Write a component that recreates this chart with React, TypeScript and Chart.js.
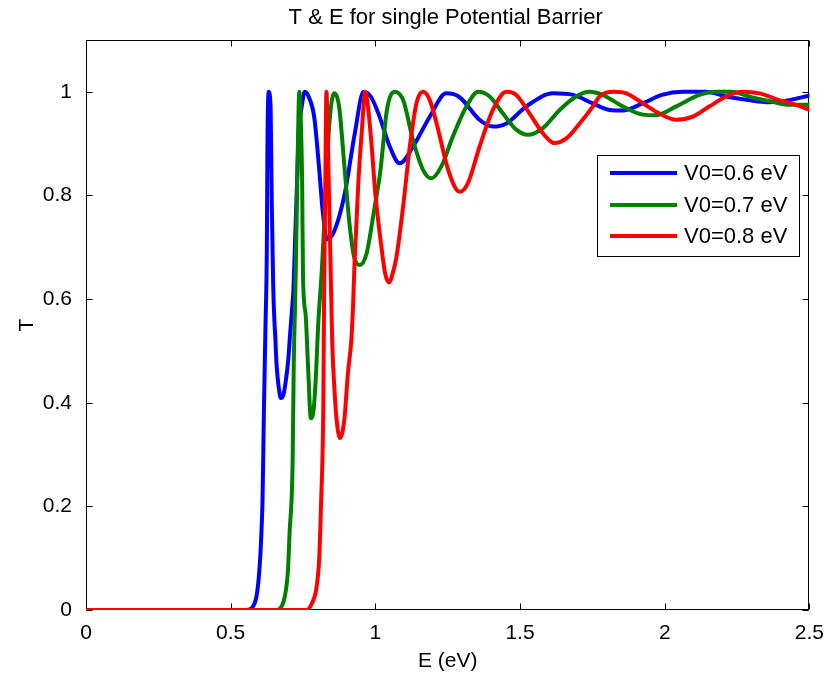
import React, { useEffect, useRef } from "react";
import { Chart, registerables } from "chart.js";
Chart.register(...registerables);

const TITLE = "T & E for single Potential Barrier";
const X_LABEL = "E (eV)";
const Y_LABEL = "T";
const X_TICKS = [0, 0.5, 1, 1.5, 2, 2.5];
const Y_TICKS = [0, 0.2, 0.4, 0.6, 0.8, 1];
const SERIES_LABELS = ["V0=0.6 eV", "V0=0.7 eV", "V0=0.8 eV"];
const SERIES_COLORS = ["#0000ff", "#008000", "#ff0000"];

const blueE = [0, 0.5, 0.555, 0.575, 0.589, 0.597, 0.603, 0.607, 0.61, 0.615, 0.62, 0.625, 0.627, 0.631, 0.638, 0.642, 0.647, 0.651, 0.654, 0.659, 0.666, 0.673, 0.682, 0.69, 0.699, 0.705, 0.712, 0.717, 0.723, 0.729, 0.735, 0.745, 0.756, 0.77, 0.789, 0.806, 0.818, 0.833, 0.857, 0.893, 0.929, 0.959, 0.985, 1.012, 1.05, 1.084, 1.13, 1.188, 1.245, 1.29, 1.36, 1.406, 1.453, 1.522, 1.614, 1.683, 1.75, 1.81, 1.855, 1.925, 1.99, 2.06, 2.14, 2.22, 2.29, 2.36, 2.43, 2.5];
const blueT = [0, 0, 0, 0.005, 0.026, 0.062, 0.11, 0.16, 0.21, 0.39, 0.54, 0.7, 0.89, 1.0, 0.97, 0.785, 0.624, 0.56, 0.528, 0.47, 0.43, 0.409, 0.415, 0.44, 0.483, 0.53, 0.58, 0.62, 0.72, 0.82, 0.92, 0.97, 1.0, 0.99, 0.95, 0.85, 0.77, 0.715, 0.73, 0.8, 0.92, 1.0, 0.99, 0.956, 0.894, 0.862, 0.894, 0.952, 0.997, 0.99, 0.946, 0.933, 0.939, 0.972, 0.997, 0.994, 0.978, 0.965, 0.964, 0.978, 0.994, 1.0, 1.0, 0.99, 0.984, 0.98, 0.984, 0.993];

const greenE = [0, 0.6, 0.658, 0.675, 0.687, 0.698, 0.704, 0.711, 0.714, 0.718, 0.723, 0.726, 0.732, 0.737, 0.742, 0.747, 0.75, 0.759, 0.768, 0.777, 0.785, 0.793, 0.803, 0.815, 0.827, 0.839, 0.857, 0.875, 0.893, 0.911, 0.929, 0.947, 0.97, 0.995, 1.017, 1.04, 1.067, 1.096, 1.13, 1.165, 1.194, 1.228, 1.268, 1.315, 1.355, 1.395, 1.441, 1.487, 1.527, 1.579, 1.637, 1.694, 1.74, 1.785, 1.855, 1.925, 1.97, 2.04, 2.12, 2.178, 2.235, 2.29, 2.37, 2.43, 2.5];
const greenT = [0, 0, 0, 0.006, 0.026, 0.077, 0.154, 0.22, 0.283, 0.477, 0.6, 0.69, 0.89, 1.0, 0.95, 0.823, 0.643, 0.57, 0.462, 0.37, 0.38, 0.435, 0.556, 0.656, 0.786, 0.923, 0.997, 0.97, 0.856, 0.743, 0.676, 0.666, 0.689, 0.769, 0.846, 0.965, 1.0, 0.984, 0.907, 0.849, 0.833, 0.856, 0.914, 0.972, 1.0, 0.991, 0.958, 0.927, 0.917, 0.93, 0.965, 0.991, 1.0, 0.994, 0.972, 0.956, 0.955, 0.972, 0.994, 1.0, 1.0, 0.991, 0.981, 0.975, 0.975];

const redE = [0, 0.7, 0.762, 0.78, 0.797, 0.806, 0.812, 0.82, 0.823, 0.827, 0.831, 0.835, 0.839, 0.845, 0.851, 0.859, 0.867, 0.878, 0.893, 0.905, 0.917, 0.923, 0.928, 0.941, 0.953, 0.965, 0.983, 1.0, 1.019, 1.034, 1.047, 1.06, 1.073, 1.096, 1.119, 1.142, 1.165, 1.188, 1.217, 1.245, 1.274, 1.291, 1.32, 1.36, 1.406, 1.453, 1.487, 1.533, 1.579, 1.619, 1.66, 1.706, 1.752, 1.775, 1.821, 1.867, 1.924, 1.982, 2.04, 2.097, 2.155, 2.212, 2.27, 2.327, 2.396, 2.454, 2.5];
const redT = [0, 0, 0, 0.012, 0.045, 0.1, 0.2, 0.39, 0.62, 0.823, 1.0, 0.93, 0.823, 0.669, 0.515, 0.422, 0.362, 0.332, 0.369, 0.456, 0.522, 0.589, 0.669, 0.823, 0.923, 1.0, 0.923, 0.803, 0.709, 0.649, 0.632, 0.65, 0.682, 0.779, 0.894, 0.978, 1.0, 0.984, 0.927, 0.862, 0.817, 0.807, 0.824, 0.894, 0.965, 1.0, 0.994, 0.958, 0.92, 0.901, 0.91, 0.939, 0.972, 0.991, 1.0, 0.997, 0.978, 0.958, 0.946, 0.952, 0.972, 0.991, 1.0, 0.997, 0.984, 0.975, 0.965];

const FONT = '"Liberation Sans", Arial, Helvetica, sans-serif';

const toPoints = (xs: number[], ys: number[]) => xs.map((x, i) => ({ x, y: ys[i] }));

const decorPlugin = {
  id: "decor",
  beforeDatasetsDraw(chart: any) {
    const { ctx, chartArea: a, scales } = chart;
    ctx.save();
    ctx.strokeStyle = "#000";
    ctx.lineWidth = 1;
    const L = Math.round(a.left) + 0.5;
    const R = Math.round(a.right) - 0.5;
    const T = Math.round(a.top) + 0.5;
    const B = Math.round(a.bottom) - 0.5;
    ctx.strokeRect(L, T, R - L, B - T);
    ctx.beginPath();
    const tl = 6;
    X_TICKS.forEach((v) => {
      const p = Math.round(scales.x.getPixelForValue(v)) + 0.5;
      ctx.moveTo(p, B); ctx.lineTo(p, B - tl);
      ctx.moveTo(p, T); ctx.lineTo(p, T + tl);
    });
    Y_TICKS.forEach((v) => {
      const p = Math.round(scales.y.getPixelForValue(v)) + 0.5;
      ctx.moveTo(L, p); ctx.lineTo(L + tl, p);
      ctx.moveTo(R, p); ctx.lineTo(R - tl, p);
    });
    ctx.stroke();
    ctx.restore();
  },
  afterDraw(chart: any) {
    const { ctx, chartArea: a } = chart;
    ctx.save();
    ctx.fillStyle = "#000";
    ctx.textAlign = "center";
    ctx.textBaseline = "alphabetic";
    const cx = (a.left + a.right) / 2;
    ctx.font = `22px ${FONT}`;
    ctx.fillText(TITLE, cx - 2, 24);
    ctx.font = `21px ${FONT}`;
    ctx.fillText(X_LABEL, cx, 667);
    ctx.save();
    ctx.translate(27, (a.top + a.bottom) / 2);
    ctx.rotate(-Math.PI / 2);
    ctx.textBaseline = "middle";
    ctx.fillText(Y_LABEL, 0, 0);
    ctx.restore();

    // legend
    const bx = 597, by = 155, bw = 202, bh = 101;
    ctx.fillStyle = "#fff";
    ctx.fillRect(bx, by, bw, bh);
    ctx.strokeStyle = "#000";
    ctx.lineWidth = 1;
    ctx.strokeRect(bx + 0.5, by + 0.5, bw, bh);
    const rows = [173, 205, 236];
    chart.data.datasets.forEach((ds: any, i: number) => {
      ctx.strokeStyle = ds.borderColor;
      ctx.lineWidth = 4;
      ctx.beginPath();
      ctx.moveTo(610, rows[i]);
      ctx.lineTo(677, rows[i]);
      ctx.stroke();
      ctx.fillStyle = "#000";
      ctx.textAlign = "left";
      ctx.textBaseline = "middle";
      ctx.font = `22px ${FONT}`;
      ctx.fillText(ds.label, 684, rows[i] + 1);
    });
    ctx.restore();
  },
};

export default function App() {
  const ref = useRef<HTMLCanvasElement | null>(null);
  useEffect(() => {
    document.body.style.margin = "0";
    const canvas = ref.current;
    if (!canvas) return;
    const series = [
      toPoints(blueE, blueT),
      toPoints(greenE, greenT),
      toPoints(redE, redT),
    ];
    const chart = new Chart(canvas, {
      type: "line",
      data: {
        datasets: series.map((pts, i) => ({
          label: SERIES_LABELS[i],
          data: pts,
          borderColor: SERIES_COLORS[i],
          backgroundColor: SERIES_COLORS[i],
          borderWidth: 4,
          pointRadius: 0,
          fill: false,
          tension: 0,
          cubicInterpolationMode: "monotone" as const,
          order: 2 - i,
          borderJoinStyle: "round" as const,
          borderCapStyle: "round" as const,
        })),
      },
      options: {
        animation: false,
        responsive: false,
        devicePixelRatio: 1,
        parsing: false as any,
        layout: { padding: { top: 40, right: 17, left: 0, bottom: 0 } },
        plugins: {
          legend: { display: false },
          title: { display: false },
          tooltip: { enabled: false },
        },
        scales: {
          x: {
            type: "linear",
            min: 0,
            max: 2.5,
            grid: { display: false },
            border: { display: false },
            afterBuildTicks: (s: any) => { s.ticks = X_TICKS.map((v) => ({ value: v })); },
            afterFit: (s: any) => { s.height = 73; },
            ticks: {
              color: "#000",
              font: { family: FONT, size: 21 },
              padding: 3,
              maxRotation: 0,
              autoSkip: false,
              callback: (v: any) => String(Math.round(Number(v) * 10) / 10),
            },
          },
          y: {
            type: "linear",
            min: 0,
            max: 1.1,
            grid: { display: false },
            border: { display: false },
            afterBuildTicks: (s: any) => { s.ticks = Y_TICKS.map((v) => ({ value: v })); },
            afterFit: (s: any) => { s.width = 86; },
            ticks: {
              color: "#000",
              font: { family: FONT, size: 21 },
              padding: 6,
              autoSkip: false,
              callback: (v: any) => String(Math.round(Number(v) * 10) / 10),
            },
          },
        },
      },
      plugins: [decorPlugin],
    });
    return () => chart.destroy();
  }, []);
  return <canvas ref={ref} width={827} height={683} style={{ display: "block" }} />;
}
